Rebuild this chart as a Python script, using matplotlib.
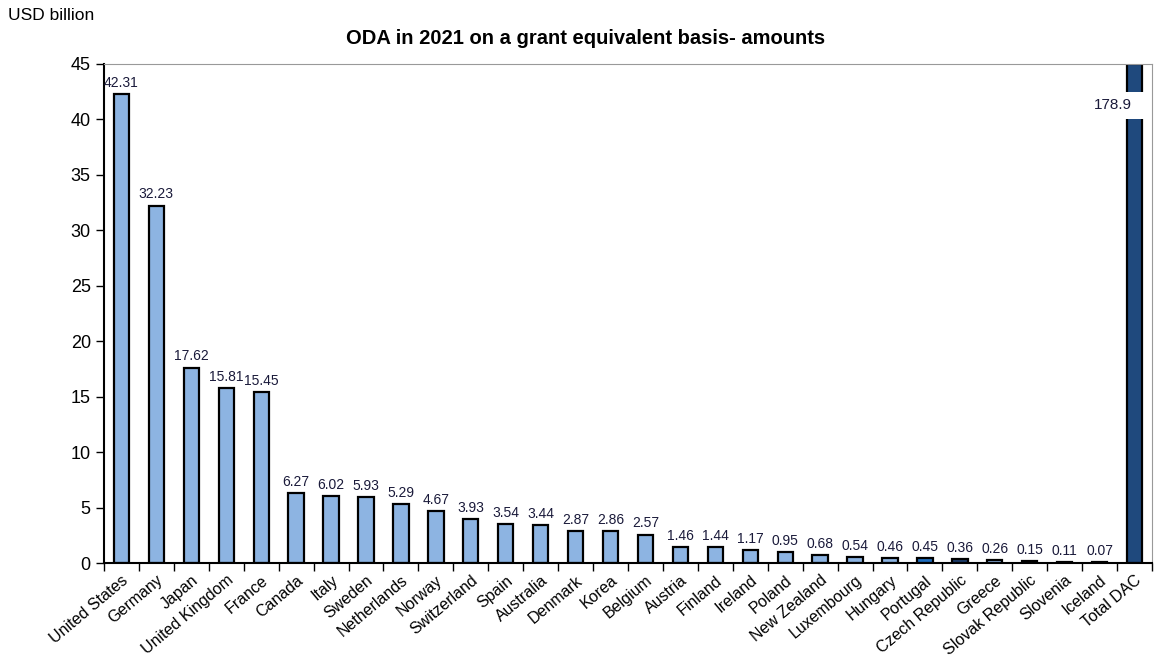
import matplotlib.pyplot as plt
from matplotlib.patches import Rectangle

plt.rcParams['font.family'] = ['Liberation Sans', 'DejaVu Sans']

countries = ['United States', 'Germany', 'Japan', 'United Kingdom', 'France', 'Canada',
             'Italy', 'Sweden', 'Netherlands', 'Norway', 'Switzerland', 'Spain', 'Australia',
             'Denmark', 'Korea', 'Belgium', 'Austria', 'Finland', 'Ireland', 'Poland',
             'New Zealand', 'Luxembourg', 'Hungary', 'Portugal', 'Czech Republic', 'Greece',
             'Slovak Republic', 'Slovenia', 'Iceland', 'Total DAC']
values = [42.31, 32.23, 17.62, 15.81, 15.45, 6.27, 6.02, 5.93, 5.29, 4.67, 3.93, 3.54, 3.44,
          2.87, 2.86, 2.57, 1.46, 1.44, 1.17, 0.95, 0.68, 0.54, 0.46, 0.45, 0.36, 0.26,
          0.15, 0.11, 0.07, 178.9]
labels = ['42.31', '32.23', '17.62', '15.81', '15.45', '6.27', '6.02', '5.93', '5.29', '4.67',
          '3.93', '3.54', '3.44', '2.87', '2.86', '2.57', '1.46', '1.44', '1.17', '0.95',
          '0.68', '0.54', '0.46', '0.45', '0.36', '0.26', '0.15', '0.11', '0.07', '178.9']

ymax = 45
light = '#8DB4E2'
colors = [light] * len(countries)
colors[countries.index('Portugal')] = '#1F6DBE'
colors[countries.index('Czech Republic')] = '#1F3F70'
colors[-1] = '#1F497D'

fig = plt.figure(figsize=(11.55, 6.64), dpi=100)
ax = fig.add_axes([104 / 1155, 101 / 664, 1048 / 1155, 499 / 664])

x = list(range(len(countries)))
shown = [min(v, ymax) for v in values]
ax.bar(x, shown, width=0.44, color=colors, edgecolor='black', linewidth=1.6)

for i, v in enumerate(values[:-1]):
    ax.annotate(labels[i], (i, v), xytext=(0, 3), textcoords='offset points',
                ha='center', va='bottom', fontsize=10, color='#1a1a3a')

# broken Total DAC bar with its value in the gap
n = len(countries) - 1
ax.add_patch(Rectangle((n - 0.4, 40.0), 0.8, 2.5, facecolor='white', edgecolor='none', zorder=3))
ax.text(n - 0.62, 41.3, labels[-1], ha='center', va='center', fontsize=11,
        color='#1a1a3a', zorder=4)

ax.set_xlim(-0.5, len(countries) - 0.5)
ax.set_ylim(0, ymax)
ax.set_yticks(range(0, 46, 5))
ax.tick_params(axis='y', labelsize=13, length=6, width=1, direction='out')
ax.set_xticks([i - 0.5 for i in range(len(countries) + 1)])
ax.set_xticklabels([])
ax.tick_params(axis='x', length=6, width=1, direction='out')
ax.set_xticks(x, minor=True)
ax.set_xticklabels(countries, minor=True, rotation=40, ha='right', rotation_mode='anchor',
                   fontsize=11.5)
ax.tick_params(axis='x', which='minor', length=0, pad=7)

ax.spines['left'].set_linewidth(1.5)
ax.spines['bottom'].set_linewidth(1.5)
ax.spines['top'].set_color('#999999')
ax.spines['right'].set_color('#999999')

fig.text(586 / 1155, 1 - 38 / 664, 'ODA in 2021 on a grant equivalent basis- amounts', ha='center',
         va='center', fontsize=14.5, fontweight='bold')
fig.text(8 / 1155, 1 - 15 / 664, 'USD billion', ha='left', va='center', fontsize=12.5)

fig.savefig('out.png', dpi=100)
